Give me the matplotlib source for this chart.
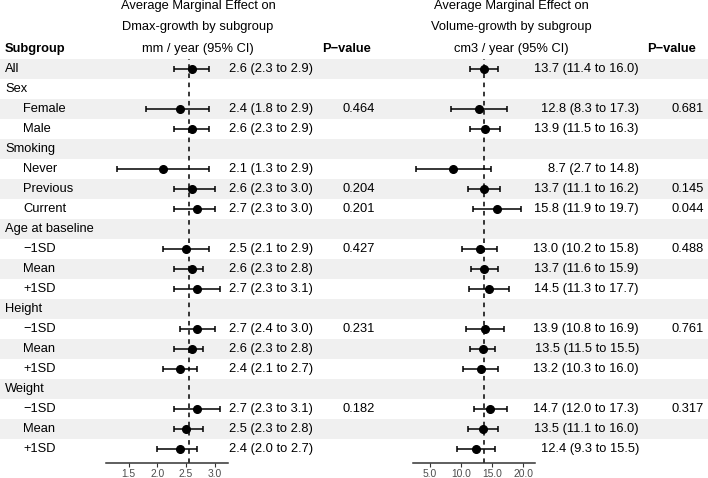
import matplotlib
matplotlib.use('Agg')
import matplotlib.pyplot as plt

plt.rcParams['font.family'] = ['Liberation Sans', 'DejaVu Sans']

# rows of the table (label, indented?)
subgroups = ['All', 'Sex', 'Female', 'Male', 'Smoking', 'Never', 'Previous', 'Current',
             'Age at baseline', '\u22121SD', 'Mean', '+1SD', 'Height', '\u22121SD', 'Mean', '+1SD',
             'Weight', '\u22121SD', 'Mean', '+1SD']
indented = [False, False, True, True, False, True, True, True,
            False, True, True, True, False, True, True, True, False, True, True, True]

# Dmax growth, mm / year (None = heading row)
dmax_est = [2.6, None, 2.4, 2.6, None, 2.1, 2.6, 2.7, None, 2.5, 2.6, 2.7, None, 2.7, 2.6, 2.4, None, 2.7, 2.5, 2.4]
dmax_lo = [2.3, None, 1.8, 2.3, None, 1.3, 2.3, 2.3, None, 2.1, 2.3, 2.3, None, 2.4, 2.3, 2.1, None, 2.3, 2.3, 2.0]
dmax_hi = [2.9, None, 2.9, 2.9, None, 2.9, 3.0, 3.0, None, 2.9, 2.8, 3.1, None, 3.0, 2.8, 2.7, None, 3.1, 2.8, 2.7]
dmax_p = ['', '', '0.464', '', '', '', '0.204', '0.201', '', '0.427', '', '', '', '0.231', '', '', '', '0.182', '', '']
dmax_ref = 2.56

# Volume growth, cm3 / year
vol_est = [13.7, None, 12.8, 13.9, None, 8.7, 13.7, 15.8, None, 13.0, 13.7, 14.5, None, 13.9, 13.5, 13.2, None, 14.7, 13.5, 12.4]
vol_lo = [11.4, None, 8.3, 11.5, None, 2.7, 11.1, 11.9, None, 10.2, 11.6, 11.3, None, 10.8, 11.5, 10.3, None, 12.0, 11.1, 9.3]
vol_hi = [16.0, None, 17.3, 16.3, None, 14.8, 16.2, 19.7, None, 15.8, 15.9, 17.7, None, 16.9, 15.5, 16.0, None, 17.3, 16.0, 15.5]
vol_p = ['', '', '0.681', '', '', '', '0.145', '0.044', '', '0.488', '', '', '', '0.761', '', '', '', '0.317', '', '']
vol_ref = 13.67

dmax_title = ['Average Marginal Effect on', 'Dmax-growth by subgroup', 'mm / year (95% CI)']
vol_title = ['Average Marginal Effect on', 'Volume-growth by subgroup', 'cm3 / year (95% CI)']
dmax_ticks = [1.5, 2.0, 2.5, 3.0]
vol_ticks = [5.0, 10.0, 15.0, 20.0]

W, H = 708, 478
FS = 9.3
n = len(subgroups)

fig = plt.figure(figsize=(W / 100, H / 100), dpi=100)

# table layer: x in pixels, y in rows (row r centred at 69 + 20 r px)
tab = fig.add_axes([0, 0, 1, 1])
tab.set_xlim(0, W)
tab.set_ylim((H - 69) / 20, -69 / 20)
tab.axis('off')

for r in range(n):
    if r % 2 == 0:
        tab.axhspan(r - 0.5, r + 0.5, color='#f0f0f0', lw=0, zorder=0)

tab.text(5, -1, 'Subgroup', fontsize=FS, fontweight='bold', va='center')
tab.text(322, -1, 'P\u2212value', fontsize=FS, fontweight='bold', va='center')
tab.text(647, -1, 'P\u2212value', fontsize=FS, fontweight='bold', va='center')
for i, yy in enumerate([-3.15, -2.08, -1.0]):
    tab.text(198, yy, dmax_title[i], fontsize=FS, ha='center', va='center')
    tab.text(511, yy, vol_title[i], fontsize=FS, ha='center', va='center')


def fmt(e, lo, hi):
    return f'{e:.1f} ({lo:.1f} to {hi:.1f})'


for r in range(n):
    tab.text(23 if indented[r] else 5, r, subgroups[r], fontsize=FS, va='center')
    if dmax_est[r] is not None:
        tab.text(313, r, fmt(dmax_est[r], dmax_lo[r], dmax_hi[r]), fontsize=FS, ha='right', va='center')
        tab.text(639, r, fmt(vol_est[r], vol_lo[r], vol_hi[r]), fontsize=FS, ha='right', va='center')
    tab.text(375, r, dmax_p[r], fontsize=FS, ha='right', va='center')
    tab.text(704, r, vol_p[r], fontsize=FS, ha='right', va='center')


def forest(x0, x1, est, lo, hi, ref, xlim, ticks):
    top, axis_y = 59, 462.5
    ax = fig.add_axes([x0 / W, 1 - axis_y / H, (x1 - x0) / W, (axis_y - top) / H])
    ax.set_facecolor('none')
    rows = [r for r in range(n) if est[r] is not None]
    e = [est[r] for r in rows]
    xerr = [[est[r] - lo[r] for r in rows], [hi[r] - est[r] for r in rows]]
    ax.errorbar(e, rows, xerr=xerr, fmt='o', color='black', ms=5.5,
                elinewidth=1.1, capsize=1.9, capthick=1.1, zorder=3)
    ax.axvline(ref, color='black', lw=1.1, ls=(0, (3, 3)), zorder=2)
    ax.set_xlim(*xlim)
    ax.set_ylim(n - 1 + 0.675, -0.5)
    for s in ['top', 'left', 'right']:
        ax.spines[s].set_visible(False)
    ax.spines['bottom'].set_color('#333333')
    ax.spines['bottom'].set_linewidth(1.1)
    ax.set_yticks([])
    ax.set_xticks(ticks)
    ax.set_xticklabels([f'{t:.1f}' for t in ticks])
    ax.tick_params(axis='x', length=3, width=0.8, color='#333333', pad=2,
                   labelsize=7.4, labelcolor='#4d4d4d')
    return ax


forest(105.7, 228, dmax_est, dmax_lo, dmax_hi, dmax_ref, (1.102, 3.235), dmax_ticks)
forest(412.7, 535, vol_est, vol_lo, vol_hi, vol_ref, (2.22, 21.88), vol_ticks)

fig.savefig('out.png', dpi=100)
